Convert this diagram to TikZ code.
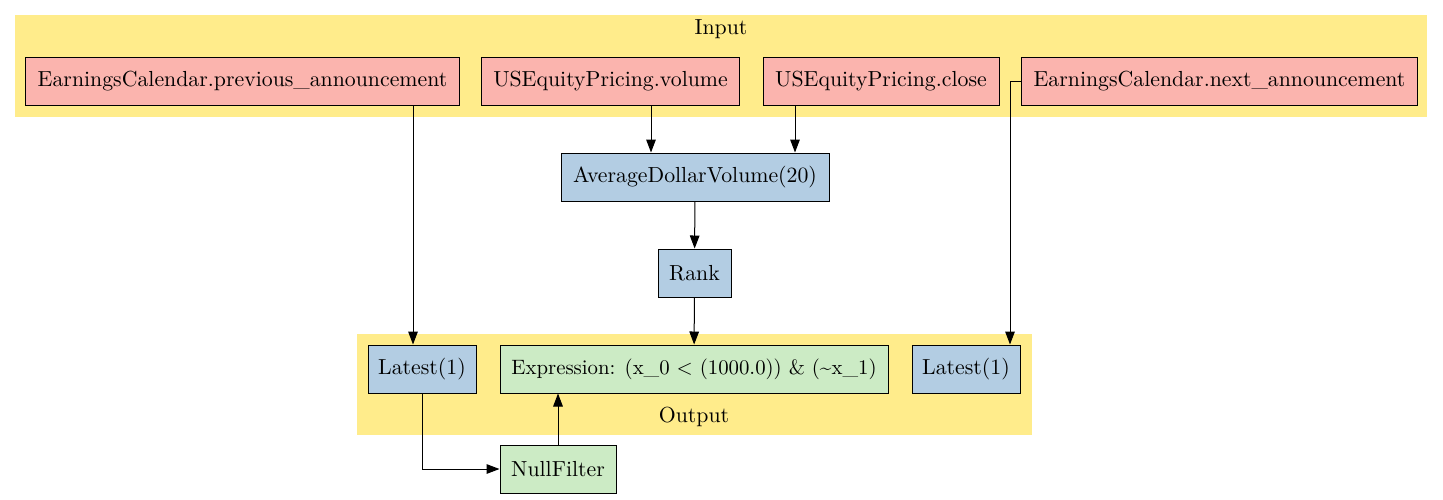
\documentclass[tikz,border=0pt]{standalone}
\usetikzlibrary{arrows.meta,positioning}

\definecolor{clusterbg}{HTML}{FFEC8B}
\definecolor{inputfill}{HTML}{FBB4AE}
\definecolor{termfill}{HTML}{B3CDE3}
\definecolor{filterfill}{HTML}{CCEBC5}

\begin{document}
\begin{tikzpicture}[x=0.5pt,y=-0.5pt,>={Triangle[length=6.5pt,width=4.8pt]},
    every node/.style={font=\fontsize{10.9}{13}\selectfont},
    box/.style={draw,rectangle,line width=0.5pt,minimum height=24pt,inner xsep=6pt},
    inbox/.style={box,fill=inputfill},
    termbox/.style={box,fill=termfill,inner xsep=4pt},
    filterbox/.style={box,fill=filterfill,inner xsep=4pt},
    edge/.style={->,line width=0.5pt}]

    \useasboundingbox (0,0) rectangle (1443,499);

    % clusters
    \fill[clusterbg] (15,15) rectangle (1427,117);
    \fill[clusterbg] (357,334) rectangle (1032,435);
    \node (inlabel) at (721,29) {Input};
    \node (outlabel) at (694,417) {Output};

    % inputs
    \node[inbox,minimum width=216.5pt] (prev) at (242.5,81) {EarningsCalendar.previous\_announcement};
    \node[inbox,minimum width=128.5pt] (volume) at (610.5,81) {USEquityPricing.volume};
    \node[inbox,minimum width=118pt] (close) at (881,81) {USEquityPricing.close};
    \node[inbox,minimum width=196.5pt] (next) at (1219.5,81) {EarningsCalendar.next\_announcement};

    % terms
    \node[termbox,minimum width=134pt] (adv) at (695,177) {AverageDollarVolume(20)};
    \node[termbox,minimum width=36.5pt] (rank) at (694.5,273) {Rank};
    \node[termbox,minimum width=54pt] (latprev) at (422,369) {Latest(1)};
    \node[filterbox,minimum width=194pt,inner xsep=1pt,font=\fontsize{10.4}{13}\selectfont] (expr) at (694,369) {Expression: (x\_0 < (1000.0)) \& (\textasciitilde x\_1)};
    \node[termbox,minimum width=54pt] (latnext) at (966,369) {Latest(1)};
    \node[filterbox,minimum width=58pt] (nullf) at (558,469) {NullFilter};

    % edges
    \draw[edge] ([xshift=-4.5pt]latprev.north |- prev.south) -- ([xshift=-4.5pt]latprev.north);
    \draw[edge] ([xshift=-22pt]adv.north |- volume.south) -- ([xshift=-22pt]adv.north);
    \draw[edge] ([xshift=50pt]adv.north |- close.south) -- ([xshift=50pt]adv.north);
    \draw[edge] (adv) -- (rank);
    \draw[edge] (rank) -- (expr);
    \draw[edge] (next.west) -| ([xshift=22pt]latnext.north);
    \draw[edge] (latprev.south) |- (nullf.west);
    \draw[edge] (nullf.north) -- (nullf.north |- expr.south);

\end{tikzpicture}
\end{document}
